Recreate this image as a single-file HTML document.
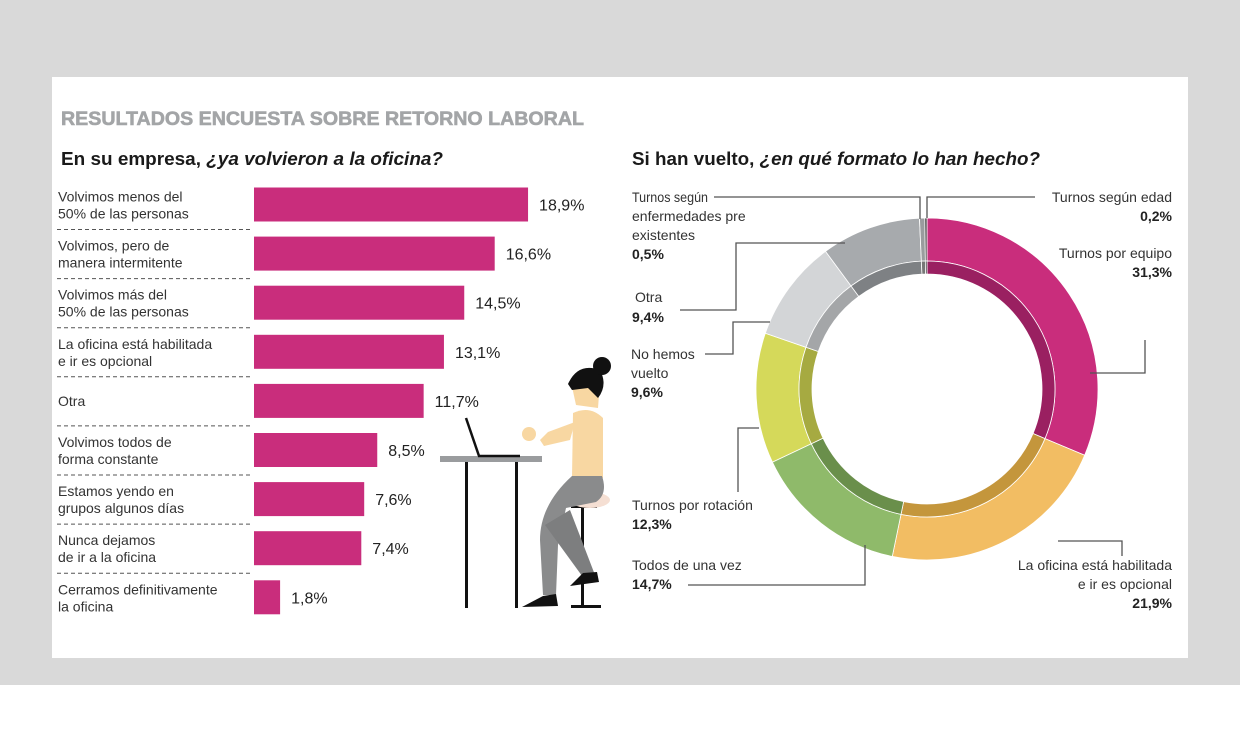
<!DOCTYPE html>
<html><head><meta charset="utf-8"><style>
html,body{margin:0;padding:0;width:1240px;height:735px;background:#fff;overflow:hidden}
.bg{position:absolute;left:0;top:0;width:1240px;height:685px;background:#d9d9d9}
.panel{position:absolute;left:52px;top:77px;width:1136px;height:581px;background:#fff}
svg{position:absolute;left:0;top:0}
text{font-family:"Liberation Sans",sans-serif}
</style></head><body>
<div class="bg"></div><div class="panel"></div>
<svg width="1240" height="735" id="s">
<text x="61" y="125" font-size="19.5" font-weight="bold" fill="#a3a5a7" stroke="#a3a5a7" stroke-width="0.6" textLength="523" lengthAdjust="spacingAndGlyphs">RESULTADOS ENCUESTA SOBRE RETORNO LABORAL</text>
<text x="61" y="165" font-size="18" font-weight="bold" fill="#1a1a1a" textLength="382" lengthAdjust="spacingAndGlyphs">En su empresa, <tspan font-style="italic">¿ya volvieron a la oficina?</tspan></text>
<text x="632" y="165" font-size="18" font-weight="bold" fill="#1a1a1a" textLength="408" lengthAdjust="spacingAndGlyphs">Si han vuelto, <tspan font-style="italic">¿en qué formato lo han hecho?</tspan></text>
<g id="bars" font-size="14" fill="#333"></g>
<g id="donut"></g>
<g stroke="#555" stroke-width="1.3" fill="none">
<polyline points="927,218 927,197 1035,197"/>
<polyline points="920,219 920,197 714,197"/>
<polyline points="845,243 736,243 736,310 680,310"/>
<polyline points="770,322 733,322 733,354 705,354"/>
<polyline points="759,428 738,428 738,492"/>
<polyline points="865,545 865,585 688,585"/>
<polyline points="1145,340 1145,373 1090,373" />
<polyline points="1058,541 1122,541 1122,556"/>
</g>
<g font-size="14" fill="#333">
<text x="1172" y="202" text-anchor="end">Turnos según edad</text>
<text x="1172" y="221" text-anchor="end" font-weight="bold" fill="#222">0,2%</text>
<text x="1172" y="258" text-anchor="end">Turnos por equipo</text>
<text x="1172" y="277" text-anchor="end" font-weight="bold" fill="#222">31,3%</text>
<text x="1172" y="570" text-anchor="end">La oficina está habilitada</text>
<text x="1172" y="589" text-anchor="end">e ir es opcional</text>
<text x="1172" y="608" text-anchor="end" font-weight="bold" fill="#222">21,9%</text>
<text x="632" y="202" textLength="76" lengthAdjust="spacingAndGlyphs">Turnos según</text>
<text x="632" y="221">enfermedades pre</text>
<text x="632" y="240">existentes</text>
<text x="632" y="259" font-weight="bold" fill="#222">0,5%</text>
<text x="635" y="302">Otra</text>
<text x="632" y="322" font-weight="bold" fill="#222">9,4%</text>
<text x="631" y="359">No hemos</text>
<text x="631" y="378">vuelto</text>
<text x="631" y="397" font-weight="bold" fill="#222">9,6%</text>
<text x="632" y="510">Turnos por rotación</text>
<text x="632" y="529" font-weight="bold" fill="#222">12,3%</text>
<text x="632" y="570">Todos de una vez</text>
<text x="632" y="589" font-weight="bold" fill="#222">14,7%</text>
</g>
<!-- illustration -->
<g>
<rect x="440" y="456" width="102" height="6" fill="#9a9c9e"/>
<rect x="465" y="462" width="3" height="146" fill="#111"/>
<rect x="515" y="462" width="3" height="146" fill="#111"/>
<line x1="466" y1="418" x2="479" y2="456" stroke="#111" stroke-width="2.5"/>
<line x1="478" y1="456" x2="520" y2="456" stroke="#111" stroke-width="2.5"/>
<rect x="581" y="505" width="3" height="100" fill="#111"/>
<rect x="571" y="504" width="26" height="4" fill="#111"/>
<rect x="571" y="605" width="30" height="3" fill="#111"/>
<ellipse cx="590" cy="500" rx="20" ry="8" fill="#f5dfd3"/>
<path d="M573,413 Q590,405 603,418 L603,478 L572,478 Z" fill="#f8d7a2"/>
<path d="M575,422 L548,432 L540,440 L544,446 L570,440 Z" fill="#f8d7a2"/>
<circle cx="529" cy="434" r="7" fill="#f8d7a2"/>
<path d="M572,476 L602,476 Q608,494 596,502 L566,508 L558,545 L556,595 L543,595 L540,540 Q540,505 572,476 Z" fill="#8a8b8c"/>
<path d="M545,525 L570,510 L595,575 L585,580 Z" fill="#7d7e7f"/>
<path d="M583,573 L597,572 L599,582 L570,586 Z" fill="#111"/>
<path d="M543,596 L556,594 L558,606 L522,607 Z" fill="#111"/>
<path d="M571,382 Q585,370 600,382 L598,408 L576,405 Z" fill="#f8d7a2"/>
<path d="M568,384 Q578,362 600,370 Q608,385 598,398 L588,388 L572,390 Z" fill="#111"/>
<circle cx="602" cy="366" r="9" fill="#111"/>
</g>
</svg>
<script>
var NS="http://www.w3.org/2000/svg",s=document.getElementById('s');
function el(t,a,p){var e=document.createElementNS(NS,t);for(var k in a)e.setAttribute(k,a[k]);(p||s).appendChild(e);return e;}
var bars=document.getElementById('bars');
var d=[["Volvimos menos del","50% de las personas",18.9,"18,9%"],["Volvimos, pero de","manera intermitente",16.6,"16,6%"],["Volvimos más del","50% de las personas",14.5,"14,5%"],["La oficina está habilitada","e ir es opcional",13.1,"13,1%"],["Otra","",11.7,"11,7%"],["Volvimos todos de","forma constante",8.5,"8,5%"],["Estamos yendo en","grupos algunos días",7.6,"7,6%"],["Nunca dejamos","de ir a la oficina",7.4,"7,4%"],["Cerramos definitivamente","la oficina",1.8,"1,8%"]];
d.forEach(function(r,i){var cy=204.5+i*49.1;var w=r[2]*14.5;
el('rect',{x:254,y:cy-17,width:w,height:34,fill:'#c92d7c'},bars);
var t=el('text',{x:254+w+11,y:cy+6,'font-size':16,fill:'#222'},bars);t.textContent=r[3];
if(r[1]){var a=el('text',{x:58,y:cy-3},bars);a.textContent=r[0];var b=el('text',{x:58,y:cy+14},bars);b.textContent=r[1];}
else{var a=el('text',{x:58,y:cy+5},bars);a.textContent=r[0];}
if(i<8)el('line',{x1:57,y1:cy+25,x2:253,y2:cy+25,stroke:'#555','stroke-dasharray':'4,3','stroke-width':1},bars);
});
var g=document.getElementById('donut'),cx=927,cy=389;
var sl=[[31.3,'#c92d7c','#9a2061'],[21.9,'#f2bd63','#c4963c'],[14.7,'#8fba6a','#6a8f4b'],[12.3,'#d5d95a','#a6aa41'],[9.6,'#d3d5d7','#a4a6a8'],[9.4,'#a7aaad','#7e8184'],[0.5,'#9a9c9e','#777'],[0.2,'#333','#222']];
function arc(r1,r2,a0,a1,f){var p=function(r,a){return [cx+r*Math.sin(a),cy-r*Math.cos(a)];};
var l=(a1-a0)>Math.PI?1:0,A=p(r2,a0),B=p(r2,a1),C=p(r1,a1),D=p(r1,a0);
el('path',{d:'M'+A+' A'+r2+','+r2+' 0 '+l+' 1 '+B+' L'+C+' A'+r1+','+r1+' 0 '+l+' 0 '+D+'Z',fill:f,stroke:'#fff','stroke-width':0.8},g);}
var a=0;sl.forEach(function(x){var b=a+x[0]/99.9*2*Math.PI;arc(128,171,a,b,x[1]);arc(115,128,a,b,x[2]);a=b;});
</script>
</body></html>
